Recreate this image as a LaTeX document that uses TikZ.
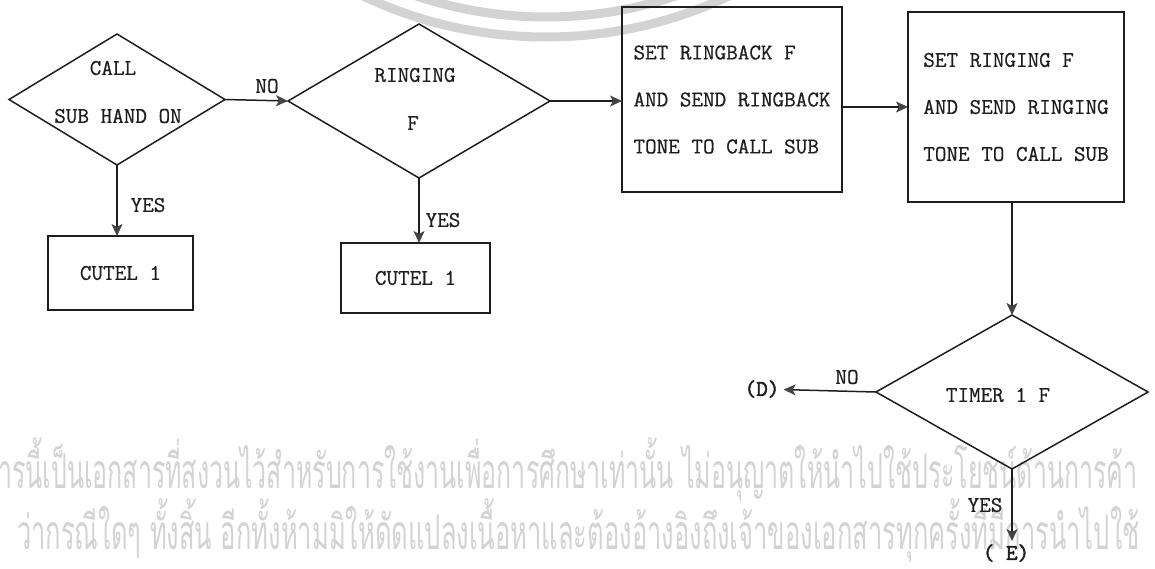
\documentclass[tikz,border=0pt]{standalone}
\usepackage{fontspec}
\newfontfamily\thaifont[Script=Thai]{Loma}
\newfontfamily\tw{Latin Modern Mono}[FakeBold=0.6]
\newfontfamily\twb{Latin Modern Mono}[FakeBold=2]
\usetikzlibrary{shapes.geometric,arrows.meta}
\definecolor{ink}{HTML}{1E1E1E}
\definecolor{tipc}{HTML}{444444}
\definecolor{wm}{HTML}{D3D3D3}
\begin{document}
\begin{tikzpicture}[x=1pt,y=-1pt,
  every node/.style={font=\fontsize{22.5}{47}\selectfont\tw, text=ink},
  dec/.style={draw=ink, line width=1.5pt, shape=diamond, inner sep=0pt, outer sep=0pt},
  blk/.style={draw=ink, line width=1.5pt, rectangle, inner sep=0pt, outer sep=0pt, align=left},
  arr/.style={draw=ink, line width=1.5pt, -{Stealth[length=12pt,width=11pt,inset=3pt,color=tipc]}},
  lbl/.style={inner sep=0pt},
  term/.style={inner sep=0pt, font=\fontsize{22.5}{47}\selectfont\twb},
  wmtext/.style={font=\thaifont\fontsize{48}{52}\selectfont, text=wm, inner sep=0pt}
]
\useasboundingbox (0,0) rectangle (1155,568);
\begin{scope}
  \clip (0,0) rectangle (1155,568);
  \draw[wm, line width=9pt] (546,-391) circle[radius=428];
  \draw[wm, line width=9pt] (546,-391) circle[radius=408];
  \node[wmtext, anchor=base west] (wm1) at (-2,488) {\scalebox{0.52}[1]{ารนี้เป็นเอกสารที่สงวนไว้สำหรับการใช้งานเพื่อการศึกษาเท่านั้น ไม่อนุญาตให้นำไปใช้ประโยชน์ด้านการค้า}};
  \node[wmtext, anchor=base east] (wm2) at (1140,549) {\scalebox{0.532}[1]{ว่ากรณีใดๆ ทั้งสิ้น อีกทั้งห้ามมิให้ดัดแปลงเนื้อหาและต้องอ้างอิงถึงเจ้าของเอกสารทุกครั้งที่มีการนำไปใช้}};
\end{scope}

\node[dec, minimum width=216pt, minimum height=131pt] (d1) at (117,99.5) {};
\node[lbl] (d1a) at (113,68) {CALL};
\node[lbl] (d1b) at (118,116) {SUB HAND ON};
\node[dec, minimum width=262pt, minimum height=154pt] (d2) at (419,101) {};
\node[lbl] (d2a) at (415,75) {RINGING};
\node[lbl] (d2b) at (413,123) {F};
\node[blk, minimum width=220pt, minimum height=185pt] (b3) at (732,99.5) {SET RINGBACK F\\AND SEND RINGBACK\\TONE TO CALL SUB};
\node[blk, minimum width=216pt, minimum height=190pt] (b4) at (1016,107) {SET RINGING F\\AND SEND RINGING\\TONE TO CALL SUB};
\node[blk, minimum width=145pt, minimum height=74pt] (c1) at (120.5,273) {CUTEL 1};
\node[blk, minimum width=149pt, minimum height=70pt] (c2) at (415.5,278) {CUTEL 1};
\node[dec, minimum width=272pt, minimum height=154pt] (t) at (1012,392) {};
\node[lbl] (ta) at (998,395) {TIMER 1 F};
\node[term] (dl) at (762,389) {(D)};
\node[term] (el) at (1006,553) {( E)};

\draw[arr] (d1.east) -- (d2.west);
\node[lbl] (no1) at (267,86) {NO};
\draw[arr] (d1.south) -- (d1.south |- c1.north);
\node[lbl] (y1) at (148,205) {YES};
\draw[arr] (d2.south) -- (d2.south |- c2.north);
\node[lbl] (y2) at (443,220) {YES};
\draw[arr] (d2.east) -- (d2.east -| b3.west);
\draw[arr] (b4.west -| b3.east) -- (b4.west);
\draw[arr] (t.north |- b4.south) -- (t.north);
\draw[arr, shorten >=4pt] (t.west) -- (dl);
\node[lbl] (no2) at (847,377) {NO};
\draw[arr, shorten >=3pt] (t.south) -- (t.south |- el.north);
\node[lbl] (y3) at (985,505) {YES};
\end{tikzpicture}
\end{document}
